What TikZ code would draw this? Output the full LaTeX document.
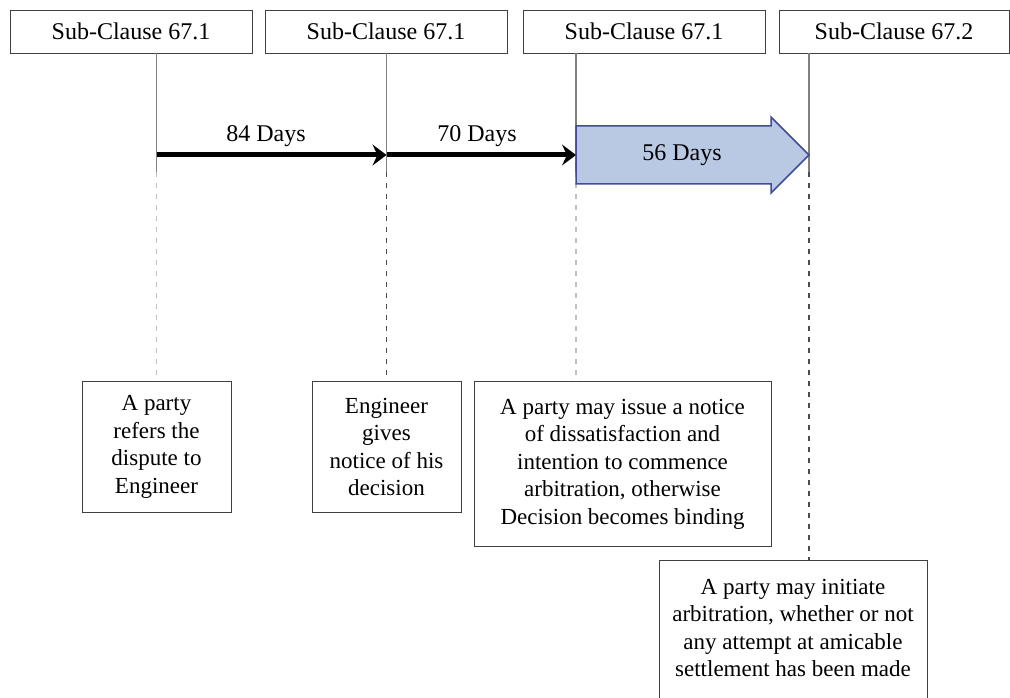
\documentclass[tikz,border=0pt]{standalone}
\usepackage{fontspec}
\setmainfont{Liberation Serif}
\begin{document}
\begin{tikzpicture}[x=1pt,y=-1pt,
  clausebox/.style={draw=black!75,line width=0.9pt,fill=white,minimum height=43pt,
    inner sep=0pt,font=\fontsize{24}{28}\selectfont},
  eventbox/.style={draw=black!75,line width=0.9pt,fill=white,anchor=north,inner sep=0pt,
    align=center,font=\fontsize{23}{27.5}\selectfont},
  vline/.style={draw=black!50,line width=1.2pt},
  lightdash/.style={draw=black!25,line width=1.4pt,dash pattern=on 5pt off 6pt},
  darkdash/.style={draw=black!70,line width=1.2pt,dash pattern=on 5pt off 6pt},
  period/.style={draw=black,line width=5pt,-{Stealth[length=14pt,width=21pt,inset=5pt]}},
  blockarrow/.style={draw={rgb,255:red,63;green,77;blue,153},line width=1.5pt,
    fill={rgb,255:red,185;green,201;blue,227}},
  daylabel/.style={font=\fontsize{24}{28}\selectfont,inner sep=0pt}]
\usetikzlibrary{arrows.meta}
\useasboundingbox (0,0) rectangle (1010,698);
\clip (0,0) rectangle (1010,698);

% clause headings
\node[clausebox,minimum width=242pt] (t1) at (131,31.5) {Sub-Clause 67.1};
\node[clausebox,minimum width=242pt] (t2) at (386,31.5) {Sub-Clause 67.1};
\node[clausebox,minimum width=242pt] (t3) at (644,31.5) {Sub-Clause 67.1};
\node[clausebox,minimum width=230pt] (t4) at (894,31.5) {Sub-Clause 67.2};

% events
\node[eventbox,minimum width=149pt,minimum height=131pt] (b1) at (156.5,381)
  {A party\\refers the\\dispute to\\Engineer};
\node[eventbox,minimum width=149pt,minimum height=131pt] (b2) at (386.5,381)
  {Engineer\\gives\\notice of his\\decision};
\node[eventbox,minimum width=297pt,minimum height=165pt] (b3) at (622.5,381)
  {A party may issue a notice\\of dissatisfaction and\\intention to commence\\arbitration, otherwise\\Decision becomes binding};
% the last box runs on below the lower edge
\node[eventbox,minimum width=268pt,minimum height=162pt] (b4) at (793,560)
  {A party may initiate\\arbitration, whether or not\\any attempt at amicable\\settlement has been made\\ \mbox{}};

% points where the time lines turn from solid to dashed
\coordinate (p1) at (156.5,172);
\coordinate (p2) at (386.5,172);
\coordinate (p3) at (576,172);
\coordinate (p4) at (809,172);

\draw[vline] (t1.south -| p1) -- (p1);
\draw[vline] (t2.south -| p2) -- (p2);
\draw[vline] (t3.south -| p3) -- (p3);
\draw[vline] (t4.south -| p4) -- (p4);
\draw[lightdash] (p1) -- (b1.north -| p1);
\draw[darkdash] (p2) -- (b2.north -| p2);
\draw[lightdash] (p3) -- (b3.north -| p3);
\draw[darkdash] (p4) -- (b4.north -| p4);

% time spans
\coordinate (m1) at (156.5,155);
\coordinate (m2) at (386.5,155);
\coordinate (m3) at (576,155);
\coordinate (m4) at (809,155);
\draw[period] (m1) -- (m2);
\draw[period] (m2) -- (m3);
\node[daylabel] (d1) at (266,136) {84 Days};
\node[daylabel] (d2) at (477,136) {70 Days};

\draw[blockarrow] (576,126) -- (771,126) -- (771,117) -- (m4) -- (771,193)
  -- (771,184) -- (576,184) -- cycle;
\node[daylabel] (d3) at (682,155) {56 Days};
\end{tikzpicture}
\end{document}
